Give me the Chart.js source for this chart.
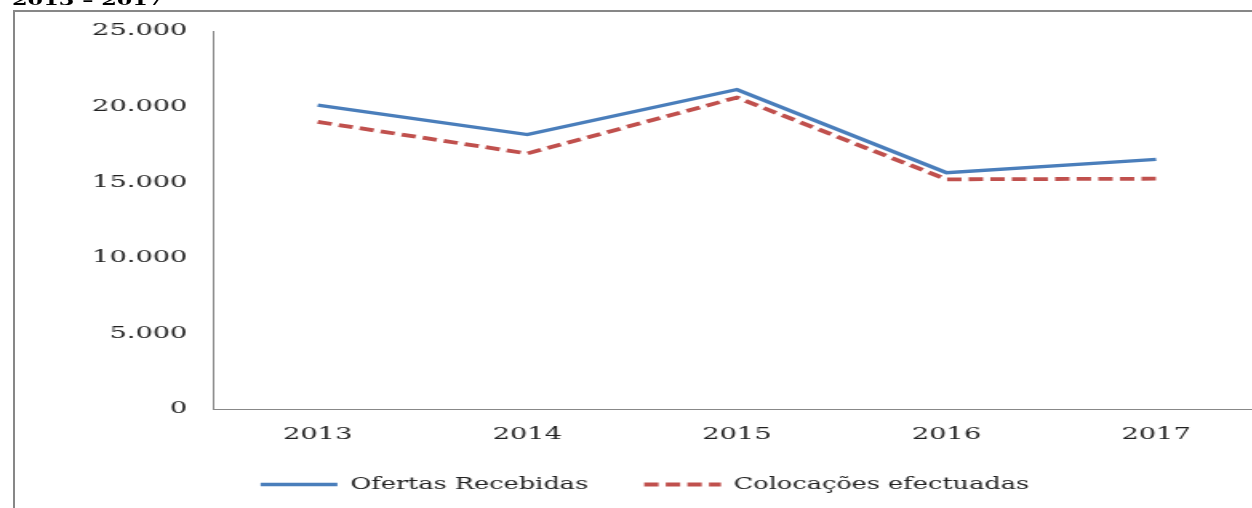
<!DOCTYPE html>
<html><head><meta charset="utf-8">
<script src="https://cdn.jsdelivr.net/npm/chart.js@4"></script>
<style>
html,body{margin:0;padding:0;width:1252px;height:508px;overflow:hidden;background:#fff;}
#frame{position:absolute;left:13px;top:10px;width:1400px;height:600px;border-left:2px solid #878787;border-top:2px solid #878787;}
#wrap{position:absolute;left:0;top:0;width:800px;height:508px;transform:scaleX(1.6);transform-origin:0 0;}
#title{position:absolute;left:7.5px;top:-7px;font:bold 14px "DejaVu Serif";line-height:14px;color:#000;white-space:nowrap;}
#c{position:absolute;left:10px;top:12px;}
</style></head><body>
<div id="frame"></div>
<div id="wrap"><div id="title">2013 – 2017</div><canvas id="c" width="790" height="496" style="width:790px;height:496px"></canvas></div>
<script>
const years = ['2013','2014','2015','2016','2017'];
const ofertasRecebidas = [20100,18150,21130,15630,16510];
const colocacoesEfectuadas = [18990,16900,20600,15190,15230];
const yTickLabels = ['0','5.000','10.000','15.000','20.000','25.000'];
const seriesNames = ['Ofertas Recebidas','Colocações efectuadas'];

const font17 = {family:'DejaVu Serif', size:17};
new Chart(document.getElementById('c'), {
  type:'line',
  data:{
    labels: years,
    datasets:[
      {label:seriesNames[0], data:ofertasRecebidas, borderColor:'#4A7EBB', backgroundColor:'#4A7EBB', borderWidth:3.4, pointRadius:0, tension:0, fill:false},
      {label:seriesNames[1], data:colocacoesEfectuadas, borderColor:'#C0504D', backgroundColor:'#C0504D', borderWidth:3.8, borderDash:[9,4.5], pointRadius:0, tension:0, fill:false}
    ]
  },
  options:{
    responsive:false, animation:false, devicePixelRatio:1,
    layout:{padding:{left:8,right:11.9,top:19,bottom:5.5}},
    plugins:{
      tooltip:{enabled:false},
      legend:{position:'bottom', labels:{
        usePointStyle:true, pointStyleWidth:48, padding:35, color:'#222',
        font:{family:'DejaVu Serif', size:16},
        generateLabels(chart){
          return chart.data.datasets.map((d,i)=>({text:d.label, datasetIndex:i, strokeStyle:d.borderColor, fillStyle:d.borderColor, lineWidth:d.borderWidth, lineDash:d.borderDash||[], pointStyle:'line', fontColor:'#222', hidden:false}));
        }
      }}
    },
    scales:{
      x:{offset:true, grid:{display:false, drawTicks:false}, border:{display:true, color:'#888', width:1},
         ticks:{padding:15, color:'#222', font:font17},
         afterFit(s){ s.height = 32.5; s.paddingLeft = 0; s.paddingRight = 0; }},
      y:{min:0, max:25000, grid:{display:false, drawTicks:false}, border:{display:true, color:'#888', width:1},
         ticks:{stepSize:5000, padding:16, color:'#222', font:font17, callback:(v,i)=>yTickLabels[i]},
         afterFit(s){ s.width = 115.1; s.paddingTop = 0; s.paddingBottom = 0; }}
    }
  }
});
</script>
</body></html>
